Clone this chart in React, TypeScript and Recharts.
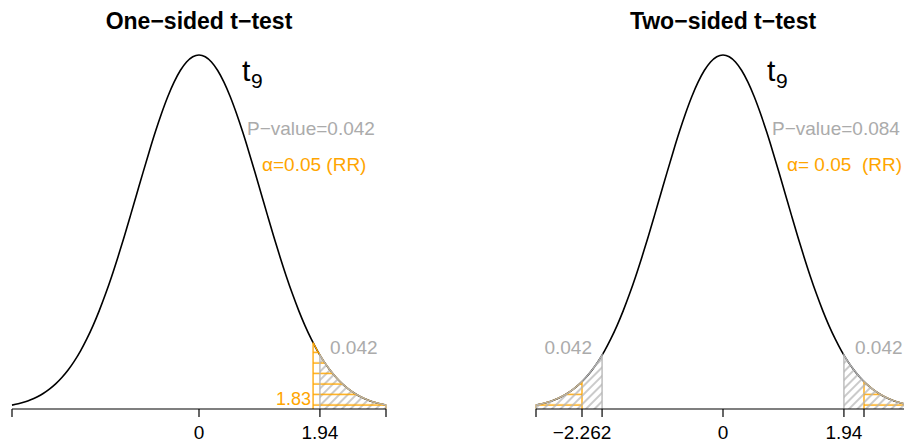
import React from 'react';
import { ComposedChart, Area, XAxis, YAxis } from 'recharts';

// t values (x) and the density curve
const X_VALUES = [
  -3, -2.9, -2.8, -2.7, -2.6, -2.5, -2.4, -2.3, -2.2, -2.1, -2, -1.9, -1.8, -1.7, -1.6, -1.5,
  -1.4, -1.3, -1.2, -1.1, -1, -0.9, -0.8, -0.7, -0.6, -0.5, -0.4, -0.3, -0.2, -0.1, 0,
  0.1, 0.2, 0.3, 0.4, 0.5, 0.6, 0.7, 0.8, 0.9, 1, 1.1, 1.2, 1.3, 1.4, 1.5,
  1.6, 1.7, 1.8, 1.9, 2, 2.1, 2.2, 2.3, 2.4, 2.5, 2.6, 2.7, 2.8, 2.9, 3,
];
const DENSITY = [
  0.0044, 0.006, 0.0079, 0.0104, 0.0136, 0.0175, 0.0224, 0.0283, 0.0355, 0.044, 0.054, 0.0656, 0.079, 0.094, 0.1109, 0.1295,
  0.1497, 0.1714, 0.1942, 0.2179, 0.242, 0.2661, 0.2897, 0.3123, 0.3332, 0.3521, 0.3683, 0.3814, 0.391, 0.397, 0.3989,
  0.397, 0.391, 0.3814, 0.3683, 0.3521, 0.3332, 0.3123, 0.2897, 0.2661, 0.242, 0.2179, 0.1942, 0.1714, 0.1497, 0.1295,
  0.1109, 0.094, 0.079, 0.0656, 0.054, 0.044, 0.0355, 0.0283, 0.0224, 0.0175, 0.0136, 0.0104, 0.0079, 0.006, 0.0044,
];

// cut points
const T_OBS = 1.94;
const D_T_OBS = 0.0608;
const CRIT_ONE = 1.83;
const D_CRIT_ONE = 0.0748;
const CRIT_TWO = 2.262;
const D_CRIT_TWO = 0.0309;

const ONE_TICKS = [-3, 0, 1.94, 3];
const ONE_TICK_LABELS = ['', '0', '1.94', ''];
const TWO_TICKS = [-3, -2.262, -1.94, 0, 1.94, 2.262, 3];
const TWO_TICK_LABELS = ['', '\u22122.262', '', '0', '1.94', '', ''];

const X_MIN = -3;
const X_MAX = 3;
const Y_MAX = 0.3989;

const CURVE = X_VALUES.map((x, i) => ({ x, y: DENSITY[i] }));

const rightTail = (cut: number, d: number) => [
  { x: cut, y: 0 },
  { x: cut, y: d },
  ...CURVE.filter((p) => p.x > cut + 1e-9),
  { x: X_MAX, y: 0 },
];
const leftTail = (cut: number, d: number) => [
  { x: X_MIN, y: 0 },
  ...CURVE.filter((p) => p.x < -cut - 1e-9),
  { x: -cut, y: d },
  { x: -cut, y: 0 },
];

const FONT = '"Liberation Sans", Arial, Helvetica, sans-serif';
const ORANGE = '#FFA500';
const GRAY = '#B4B4B4';
const TEXT_GRAY = '#ABABAB';

const W = 524;
const H = 445;
const MARGIN = { top: 55, right: 138, left: 12, bottom: 6 };

function Patterns({ p }: { p: string }) {
  return (
    <defs>
      <pattern id={`horiz${p}`} patternUnits="userSpaceOnUse" width="10" height="10.5" y="1">
        <line x1="0" y1="5" x2="10" y2="5" stroke={ORANGE} strokeWidth="1.4" />
      </pattern>
      <pattern id={`diag${p}`} patternUnits="userSpaceOnUse" width="6" height="6" patternTransform="rotate(45)">
        <line x1="3" y1="0" x2="3" y2="6" stroke={GRAY} strokeWidth="1.4" />
      </pattern>
    </defs>
  );
}

function axis(ticks: number[], labels: string[]) {
  return (
    <XAxis
      type="number"
      dataKey="x"
      domain={[X_MIN, X_MAX]}
      ticks={ticks}
      interval={0}
      tickFormatter={(v: number) => labels[ticks.indexOf(v)] ?? ''}
      stroke="#000"
      axisLine={{ stroke: '#000', strokeWidth: 1.2 }}
      tickLine={{ stroke: '#000', strokeWidth: 1.2 }}
      tickSize={8}
      tickMargin={9}
      height={30}
      tick={{ fill: '#000', fontSize: 19, fontFamily: FONT }}
    />
  );
}

function OneSided() {
  const pv = rightTail(T_OBS, D_T_OBS);
  const rr = rightTail(CRIT_ONE, D_CRIT_ONE);
  return (
    <ComposedChart width={W} height={H} data={CURVE} margin={MARGIN}>
      <Patterns p="L" />
      {axis(ONE_TICKS, ONE_TICK_LABELS)}
      <YAxis hide domain={[0, Y_MAX]} />
      <Area dataKey="y" type="monotone" stroke="#000" strokeWidth={1.6} fill="none" dot={false} activeDot={false} isAnimationActive={false} />
      <Area data={pv} dataKey="y" type="linear" stroke="none" fill="url(#diagL)" fillOpacity={1} dot={false} activeDot={false} isAnimationActive={false} />
      <Area data={rr} dataKey="y" type="linear" stroke={ORANGE} strokeWidth={1.3} fill="url(#horizL)" fillOpacity={1} dot={false} activeDot={false} isAnimationActive={false} />
      <Area data={pv} dataKey="y" type="linear" stroke={GRAY} strokeWidth={1.3} fill="none" dot={false} activeDot={false} isAnimationActive={false} />
    </ComposedChart>
  );
}

function TwoSided() {
  const pvR = rightTail(T_OBS, D_T_OBS);
  const pvL = leftTail(T_OBS, D_T_OBS);
  const rrR = rightTail(CRIT_TWO, D_CRIT_TWO);
  const rrL = leftTail(CRIT_TWO, D_CRIT_TWO);
  return (
    <ComposedChart width={W} height={H} data={CURVE} margin={MARGIN}>
      <Patterns p="R" />
      {axis(TWO_TICKS, TWO_TICK_LABELS)}
      <YAxis hide domain={[0, Y_MAX]} />
      <Area dataKey="y" type="monotone" stroke="#000" strokeWidth={1.6} fill="none" dot={false} activeDot={false} isAnimationActive={false} />
      <Area data={rrL} dataKey="y" type="linear" stroke={ORANGE} strokeWidth={1.3} fill="url(#horizR)" fillOpacity={1} dot={false} activeDot={false} isAnimationActive={false} />
      <Area data={rrR} dataKey="y" type="linear" stroke={ORANGE} strokeWidth={1.3} fill="url(#horizR)" fillOpacity={1} dot={false} activeDot={false} isAnimationActive={false} />
      <Area data={pvL} dataKey="y" type="linear" stroke={GRAY} strokeWidth={1.3} fill="url(#diagR)" fillOpacity={1} dot={false} activeDot={false} isAnimationActive={false} />
      <Area data={pvR} dataKey="y" type="linear" stroke={GRAY} strokeWidth={1.3} fill="url(#diagR)" fillOpacity={1} dot={false} activeDot={false} isAnimationActive={false} />
    </ComposedChart>
  );
}

export default function App() {
  return (
    <div style={{ position: 'absolute', left: 0, top: 0, width: 904, height: 445, overflow: 'hidden', background: '#fff' }}>
      <div style={{ position: 'absolute', left: 0, top: 0 }}>
        <OneSided />
      </div>
      <div style={{ position: 'absolute', left: 524, top: 0 }}>
        <TwoSided />
      </div>
      <svg width={904} height={445} style={{ position: 'absolute', left: 0, top: 0, pointerEvents: 'none' }} fontFamily={FONT}>
        <text x={199} y={29} textAnchor="middle" fontSize={23} fontWeight="bold" fill="#000">One{'\u2212'}sided t{'\u2212'}test</text>
        <text x={723} y={29} textAnchor="middle" fontSize={23} fontWeight="bold" fill="#000">Two{'\u2212'}sided t{'\u2212'}test</text>

        <text x={242} y={81} fontSize={30} fill="#000">t</text>
        <text x={251} y={88} fontSize={21} fill="#000">9</text>
        <text x={767} y={81} fontSize={30} fill="#000">t</text>
        <text x={776} y={88} fontSize={21} fill="#000">9</text>

        <text x={247} y={135} fontSize={19} fill={TEXT_GRAY}>P{'\u2212'}value=0.042</text>
        <text x={262} y={171} fontSize={19} fill={ORANGE}>{'\u03b1'}=0.05 (RR)</text>
        <text x={772} y={135} fontSize={19} fill={TEXT_GRAY}>P{'\u2212'}value=0.084</text>
        <text x={787} y={171} fontSize={19} fill={ORANGE} style={{ whiteSpace: 'pre' }}>{'\u03b1= 0.05  (RR)'}</text>

        <text x={330} y={354} fontSize={19} fill={TEXT_GRAY}>0.042</text>
        <text x={311} y={405} fontSize={18} fill={ORANGE} textAnchor="end">1.83</text>
        <text x={592} y={354} fontSize={19} fill={TEXT_GRAY} textAnchor="end">0.042</text>
        <text x={855} y={354} fontSize={19} fill={TEXT_GRAY}>0.042</text>
      </svg>
    </div>
  );
}
